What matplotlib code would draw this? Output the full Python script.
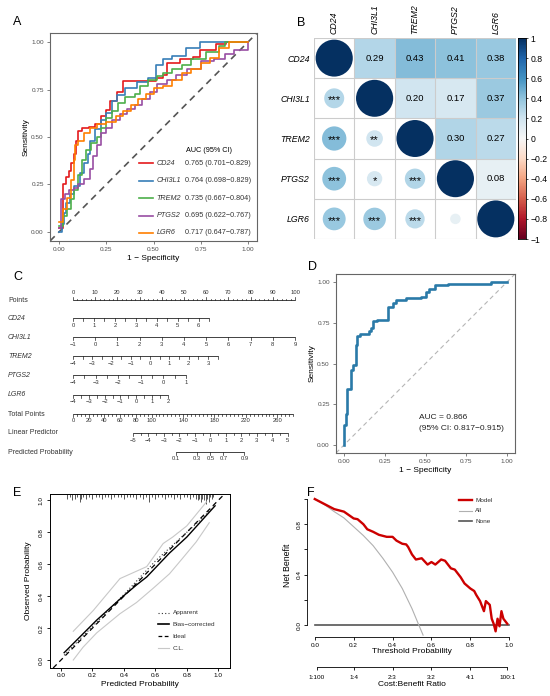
import numpy as np
import matplotlib
matplotlib.use('Agg')
import matplotlib.pyplot as plt
from matplotlib.patches import Rectangle, Circle

plt.rcParams['font.family'] = ['Liberation Sans', 'DejaVu Sans']

W, H = 550, 696

# ---------------- data ----------------
genes = ['CD24', 'CHI3L1', 'TREM2', 'PTGS2', 'LGR6']
gene_cols = ['#E41A1C', '#377EB8', '#4DAF4A', '#984EA3', '#FF7F00']
auc_text = ['0.765 (0.701\u22120.829)', '0.764 (0.698\u22120.829)', '0.735 (0.667\u22120.804)',
            '0.695 (0.622\u22120.767)', '0.717 (0.647\u22120.787)']

cd24_fpr = [0, 0.02, 0.035, 0.05, 0.063, 0.075, 0.088, 0.10, 0.12, 0.155, 0.19, 0.22, 0.245, 0.27,
            0.305, 0.34, 0.44, 0.515, 0.55, 0.57, 0.64, 0.71, 0.745, 0.83, 0.885, 1.0]
cd24_tpr = [0.02, 0.25, 0.29, 0.32, 0.36, 0.41, 0.48, 0.53, 0.55, 0.555, 0.57, 0.61, 0.645, 0.69,
            0.74, 0.795, 0.795, 0.81, 0.83, 0.89, 0.91, 0.925, 0.96, 0.99, 1.0, 1.0]
chi_fpr = [0, 0.015, 0.025, 0.035, 0.055, 0.075, 0.11, 0.13, 0.15, 0.165, 0.19, 0.22, 0.25, 0.28,
           0.305, 0.35, 0.41, 0.47, 0.515, 0.55, 0.6, 0.675, 0.745, 1.0]
chi_tpr = [0, 0.04, 0.10, 0.15, 0.20, 0.24, 0.31, 0.36, 0.41, 0.48, 0.54, 0.59, 0.625, 0.69,
           0.72, 0.76, 0.79, 0.81, 0.88, 0.91, 0.93, 0.97, 1.0, 1.0]
trem_fpr = [0, 0.02, 0.04, 0.06, 0.08, 0.10, 0.12, 0.14, 0.17, 0.20, 0.22, 0.25, 0.28, 0.31, 0.35,
            0.40, 0.43, 0.47, 0.52, 0.55, 0.60, 0.65, 0.70, 0.78, 0.85, 0.88, 1.0]
trem_tpr = [0.03, 0.08, 0.12, 0.17, 0.22, 0.30, 0.38, 0.43, 0.47, 0.50, 0.55, 0.60, 0.64, 0.68, 0.71,
            0.73, 0.77, 0.80, 0.82, 0.84, 0.86, 0.88, 0.91, 0.95, 0.98, 1.0, 1.0]
ptgs_fpr = [0, 0.01, 0.03, 0.05, 0.08, 0.10, 0.13, 0.16, 0.18, 0.20, 0.22, 0.25, 0.28, 0.32, 0.36,
            0.40, 0.44, 0.48, 0.52, 0.57, 0.62, 0.68, 0.75, 0.82, 0.88, 0.93, 1.0]
ptgs_tpr = [0.02, 0.17, 0.20, 0.22, 0.23, 0.25, 0.28, 0.33, 0.40, 0.46, 0.52, 0.55, 0.59, 0.62, 0.65,
            0.67, 0.70, 0.74, 0.78, 0.80, 0.83, 0.86, 0.90, 0.91, 0.94, 0.96, 1.0]
lgr_fpr = [0, 0.02, 0.04, 0.06, 0.075, 0.085, 0.10, 0.13, 0.16, 0.20, 0.25, 0.30, 0.34, 0.38, 0.42,
           0.46, 0.50, 0.55, 0.60, 0.65, 0.70, 0.75, 0.80, 0.85, 0.90, 1.0]
lgr_tpr = [0.05, 0.12, 0.18, 0.27, 0.38, 0.46, 0.48, 0.52, 0.55, 0.57, 0.58, 0.61, 0.64, 0.67, 0.70,
           0.73, 0.76, 0.77, 0.80, 0.84, 0.86, 0.89, 0.92, 0.97, 1.0, 1.0]
roc_fpr = [cd24_fpr, chi_fpr, trem_fpr, ptgs_fpr, lgr_fpr]
roc_tpr = [cd24_tpr, chi_tpr, trem_tpr, ptgs_tpr, lgr_tpr]

corr = [[1.00, 0.29, 0.43, 0.41, 0.38],
        [0.29, 1.00, 0.20, 0.17, 0.37],
        [0.43, 0.20, 1.00, 0.30, 0.27],
        [0.41, 0.17, 0.30, 1.00, 0.08],
        [0.38, 0.37, 0.27, 0.08, 1.00]]
sig = [['', '', '', '', ''],
       ['***', '', '', '', ''],
       ['***', '**', '', '', ''],
       ['***', '*', '***', '', ''],
       ['***', '***', '***', '', '']]

# nomogram scales: (min, max, tick step, points per unit)
cd24_scale = (0, 6.5, 0.5, 9.45)
chi_scale = (-1, 9, 1, 10.0)
trem_scale = (-4, 3.5, 0.5, 8.68)
ptgs_scale = (-4, 1, 0.5, 10.17)
lgr_scale = (-4, 2, 0.5, 7.125)
total_scale = (0, 280, 5, 0.354)
total_labels = [0, 20, 40, 60, 80, 100, 140, 180, 220, 260]
lp_scale = (-5, 5, 0.5, 6.975)
lp_offset = 27.0
prob_ticks = [0.1, 0.3, 0.5, 0.7, 0.9]

model_fpr = [0, 0, 0.01, 0.02, 0.043, 0.053, 0.07, 0.07, 0.08, 0.10, 0.15, 0.165, 0.18, 0.20, 0.27,
             0.30, 0.32, 0.38, 0.475, 0.50, 0.52, 0.56, 0.64, 0.90, 1.0]
model_tpr = [0, 0.12, 0.19, 0.345, 0.46, 0.49, 0.50, 0.615, 0.67, 0.68, 0.70, 0.72, 0.76, 0.77, 0.85,
             0.87, 0.89, 0.90, 0.91, 0.94, 0.96, 0.98, 0.99, 1.0, 1.0]

rug_x = [0.04, 0.06, 0.07, 0.09, 0.10, 0.12, 0.13, 0.14, 0.16, 0.18, 0.20, 0.22, 0.24, 0.26, 0.28,
         0.30, 0.32, 0.34, 0.36, 0.38, 0.40, 0.42, 0.44, 0.46, 0.48, 0.50, 0.52, 0.54, 0.56, 0.58,
         0.60, 0.62, 0.64, 0.66, 0.68, 0.70, 0.72, 0.74, 0.76, 0.78, 0.80, 0.82, 0.84, 0.86, 0.87,
         0.88, 0.89, 0.90, 0.91, 0.92, 0.93, 0.94, 0.95, 0.96, 0.97]
rug_h = [0.03, 0.02, 0.04, 0.03, 0.02, 0.05, 0.03, 0.02, 0.03, 0.02, 0.03, 0.02, 0.02, 0.03, 0.02,
         0.02, 0.03, 0.02, 0.02, 0.02, 0.03, 0.02, 0.02, 0.02, 0.03, 0.02, 0.03, 0.02, 0.05, 0.02,
         0.03, 0.02, 0.02, 0.03, 0.02, 0.02, 0.03, 0.02, 0.03, 0.02, 0.02, 0.03, 0.02, 0.03, 0.04,
         0.03, 0.05, 0.03, 0.04, 0.06, 0.03, 0.05, 0.02, 0.03, 0.02]
app_x = [0.02, 0.2, 0.4, 0.5, 0.6, 0.7, 0.8, 0.9, 0.97]
app_y = [0.03, 0.21, 0.41, 0.515, 0.62, 0.71, 0.80, 0.89, 0.96]
bias_x = [0.02, 0.227, 0.396, 0.48, 0.545, 0.69, 0.80, 0.98]
bias_y = [0.046, 0.25, 0.40, 0.47, 0.52, 0.67, 0.77, 0.966]
clup_x = [0.078, 0.205, 0.375, 0.545, 0.65, 0.71, 0.80, 0.925]
clup_y = [0.18, 0.31, 0.51, 0.585, 0.73, 0.77, 0.84, 0.99]
cllo_x = [0.078, 0.14, 0.227, 0.375, 0.48, 0.587, 0.69, 0.767, 0.86, 0.943]
cllo_y = [0.0, 0.08, 0.17, 0.29, 0.36, 0.45, 0.54, 0.63, 0.74, 0.86]

dca_thr = [0, 0.05, 0.10, 0.15, 0.20, 0.22, 0.25, 0.27, 0.30, 0.33, 0.37, 0.40, 0.42, 0.45, 0.47,
           0.48, 0.50, 0.52, 0.55, 0.58, 0.60, 0.62, 0.65, 0.67, 0.70, 0.72, 0.75, 0.77, 0.80,
           0.82, 0.83, 0.85, 0.87, 0.88, 0.90, 0.91, 0.92, 0.93, 0.94, 0.95, 0.96, 0.97, 0.98, 0.99]
dca_model = [1.0, 0.96, 0.92, 0.90, 0.846, 0.84, 0.80, 0.76, 0.74, 0.716, 0.70, 0.70, 0.67, 0.645, 0.64,
             0.62, 0.56, 0.52, 0.53, 0.48, 0.50, 0.48, 0.52, 0.51, 0.45, 0.44, 0.38, 0.33, 0.29,
             0.27, 0.24, 0.19, 0.11, 0.19, 0.16, 0.05, 0.01, -0.05, 0.05, -0.01, 0.11, 0.05, 0.03, 0.01]
all_thr = [0, 0.05, 0.10, 0.15, 0.20, 0.25, 0.30, 0.35, 0.40, 0.45, 0.50, 0.535, 0.557]
all_nb = [1.0, 0.955, 0.90, 0.85, 0.78, 0.71, 0.63, 0.53, 0.42, 0.29, 0.13, 0.0, -0.08]
cb_pos = [0.01, 0.2, 0.4, 0.6, 0.8, 0.99]
cb_labels = ['1:100', '1:4', '2:3', '3:2', '4:1', '100:1']


def box(l, t, r, b):
    return [l / W, 1 - b / H, (r - l) / W, (b - t) / H]


def fmt(v):
    return ('%g' % v).replace('-', '\u2212')


fig = plt.figure(figsize=(5.5, 6.96), dpi=100)
gray = '#4d4d4d'

for letter, x, y in [('A', 13, 22), ('B', 297, 23), ('C', 13, 277), ('D', 308, 267), ('E', 13, 493), ('F', 307, 493)]:
    fig.text(x / W, 1 - y / H, letter, fontsize=9, va='center', ha='left')


def gg_axes(ax):
    ax.set_xlim(-0.05, 1.05)
    ax.set_ylim(-0.05, 1.05)
    ticks = [0, 0.25, 0.5, 0.75, 1.0]
    ax.set_xticks(ticks)
    ax.set_yticks(ticks)
    ax.set_xticklabels(['0.00', '0.25', '0.50', '0.75', '1.00'])
    ax.set_yticklabels(['0.00', '0.25', '0.50', '0.75', '1.00'])
    ax.tick_params(length=2, width=0.5, color=gray, labelcolor=gray, labelsize=4.6, pad=2.5)
    for s in ax.spines.values():
        s.set_color('#666666')
        s.set_linewidth(0.8)


# ---------------- A ----------------
axA = fig.add_axes(box(50, 33, 257, 241))
gg_axes(axA)
axA.axline((0, 0), (1, 1), color='#555555', lw=1.2, ls=(0, (4, 3)))
for fpr, tpr, col in zip(roc_fpr, roc_tpr, gene_cols):
    axA.plot(fpr, tpr, color=col, lw=1.2, drawstyle='steps-post')
axA.set_xlabel('1 \u2212 Specificity', fontsize=6)
axA.set_ylabel('Sensitivity', fontsize=6)
axA.xaxis.set_label_coords(0.5, -0.065)
axA.yaxis.set_label_coords(-0.10, 0.5)
axA.text(0.675, 0.43, 'AUC (95% CI)', fontsize=5.2, va='center')
for k, (g, col, t) in enumerate(zip(genes, gene_cols, auc_text)):
    yy = 0.36 - 0.0918 * k
    axA.plot([0.425, 0.497], [yy, yy], color=col, lw=1.2)
    axA.text(0.517, yy, g, fontsize=5.2, style='italic', va='center', color='#333333')
    axA.text(0.667, yy, t, fontsize=5.2, va='center', color='#333333')

# ---------------- B ----------------
axB = fig.add_axes(box(314, 38, 516, 239))
axB.set_xlim(0, 5)
axB.set_ylim(5, 0)
cmap = plt.get_cmap('RdBu')
for i in range(5):
    for j in range(5):
        r = corr[i][j]
        c = cmap((r + 1) / 2)
        if j > i:
            axB.add_patch(Rectangle((j, i), 1, 1, facecolor=c, edgecolor='none'))
            axB.text(j + 0.5, i + 0.5, '%.2f' % r, ha='center', va='center', fontsize=6.8)
        else:
            axB.add_patch(Circle((j + 0.5, i + 0.5), 0.46 * np.sqrt(abs(r)), facecolor=c, edgecolor='none'))
            if sig[i][j]:
                axB.text(j + 0.5, i + 0.55, sig[i][j], ha='center', va='center', fontsize=8)
for k in range(6):
    axB.axhline(k, color='#cccccc', lw=0.8)
    axB.axvline(k, color='#cccccc', lw=0.8)
axB.set_aspect('auto')
axB.xaxis.tick_top()
axB.set_xticks(np.arange(5) + 0.5)
axB.set_xticklabels(genes, rotation=90, style='italic', fontsize=6.3, va='bottom', ha='center')
axB.set_yticks(np.arange(5) + 0.5)
axB.set_yticklabels(genes, style='italic', fontsize=6.3)
axB.tick_params(length=0, pad=3)
for s in axB.spines.values():
    s.set_visible(False)

axCb = fig.add_axes(box(518, 38, 526, 239))
grad = np.linspace(1, -1, 200).reshape(-1, 1)
axCb.imshow(grad, cmap='RdBu', vmin=-1, vmax=1, aspect='auto', extent=[0, 1, -1, 1])
axCb.set_xticks([])
axCb.yaxis.tick_right()
cb_ticks = [1, 0.8, 0.6, 0.4, 0.2, 0, -0.2, -0.4, -0.6, -0.8, -1]
axCb.set_yticks(cb_ticks)
axCb.set_yticklabels([fmt(v) for v in cb_ticks], fontsize=6.2)
axCb.tick_params(length=1.5, width=0.5, pad=2)
for s in axCb.spines.values():
    s.set_linewidth(0.6)

# ---------------- C (nomogram) ----------------
PXPT = 2.22
axC = fig.add_axes(box(0, 275, 300, 465))
axC.set_xlim(-73 / PXPT, (300 - 73) / PXPT)
axC.set_ylim(465, 275)
axC.axis('off')


def nomo_row(y, name, ticks, labels, to_pts, italic=False, up=False, minor=3.0, major=3.0):
    xs = [to_pts(t) for t in ticks]
    axC.plot([xs[0], xs[-1]], [y, y], color='#222222', lw=0.6, solid_capstyle='butt')
    d = -1 if up else 1
    for t, x in zip(ticks, xs):
        L = major if any(abs(t - l) < 1e-9 for l in labels) else minor
        axC.plot([x, x], [y, y + d * L], color='#222222', lw=0.5)
    for l in labels:
        axC.text(to_pts(l), y + d * (8.0 if up else 7.0), fmt(l), ha='center', va='center',
                 fontsize=4.2, color='#333333')
    axC.text((8 - 73) / PXPT, y, name, ha='left', va='center', fontsize=5,
             style='italic' if italic else 'normal', color='#333333')


def lin(scale, offset=0.0):
    vmin, vmax, step, ppu = scale
    return lambda v: offset + (v - vmin) * ppu


def scale_ticks(scale):
    vmin, vmax, step, ppu = scale
    return list(np.arange(vmin, vmax + 1e-9, step))


nomo_row(300, 'Points', list(range(0, 101, 2)), list(range(0, 101, 10)), lambda v: v,
         up=True, minor=1.5, major=3.3)
var_scales = [cd24_scale, chi_scale, trem_scale, ptgs_scale, lgr_scale]
var_y = [318, 337, 356, 375, 394.5]
for g, sc, yy in zip(genes, var_scales, var_y):
    labs = list(range(int(sc[0]), int(np.floor(sc[1])) + 1))
    nomo_row(yy, g, scale_ticks(sc), labs, lin(sc), italic=True)
nomo_row(414, 'Total Points', scale_ticks(total_scale), total_labels, lin(total_scale),
         minor=2.0, major=3.0)
nomo_row(433, 'Linear Predictor', scale_ticks(lp_scale), list(range(-5, 6)), lin(lp_scale, lp_offset),
         minor=2.0, major=3.0)
lp_fn = lin(lp_scale, lp_offset)
nomo_row(452, 'Predicted Probability', prob_ticks, prob_ticks,
         lambda p: lp_fn(np.log(p / (1 - p))))

# ---------------- D ----------------
axD = fig.add_axes(box(336, 274, 515, 453))
gg_axes(axD)
axD.axline((0, 0), (1, 1), color='#b5b5b5', lw=0.8, ls=(0, (4, 3)))
axD.plot(model_fpr, model_tpr, color='#2a7aa8', lw=1.9, drawstyle='steps-post')
axD.text(0.46, 0.167, 'AUC = 0.866', fontsize=6, va='center', color='#222222')
axD.text(0.46, 0.098, '(95% CI: 0.817\u22120.915)', fontsize=6, va='center', color='#222222')
axD.set_xlabel('1 \u2212 Specificity', fontsize=6)
axD.set_ylabel('Sensitivity', fontsize=6)
axD.xaxis.set_label_coords(0.5, -0.08)
axD.yaxis.set_label_coords(-0.115, 0.5)


def r_axes(ax):
    ax.tick_params(length=2.5, width=0.6, labelsize=4.6, direction='out')
    for lab in ax.get_yticklabels():
        lab.set_rotation(90)
        lab.set_va('center')
        lab.set_ha('center')


# ---------------- E ----------------
axE = fig.add_axes(box(50, 494, 230, 668))
axE.set_xlim(-0.07, 1.075)
axE.set_ylim(-0.05, 1.04)
axE.vlines(rug_x, [1.04 - h for h in rug_h], 1.04, color='#555555', lw=0.7)
axE.axline((0, 0), (1, 1), color='k', lw=0.9, ls=(0, (4, 3)))
axE.plot(app_x, app_y, color='#333333', lw=0.8, ls=(0, (1, 2)))
axE.plot(bias_x, bias_y, color='k', lw=1.0)
axE.plot(clup_x, clup_y, color='#c8c8c8', lw=0.8)
axE.plot(cllo_x, cllo_y, color='#c8c8c8', lw=0.8)
et = [0, 0.2, 0.4, 0.6, 0.8, 1.0]
axE.set_xticks(et)
axE.set_yticks(et)
axE.set_xticklabels([('%.1f' % v) for v in et])
axE.set_yticklabels([('%.1f' % v) for v in et])
r_axes(axE)
axE.tick_params(axis='y', pad=4)
axE.tick_params(axis='x', pad=1)
for s in axE.spines.values():
    s.set_linewidth(0.7)
axE.set_xlabel('Predicted Probability', fontsize=6)
axE.set_ylabel('Observed Probability', fontsize=6)
axE.xaxis.set_label_coords(0.5, -0.075)
axE.yaxis.set_label_coords(-0.10, 0.5)
leg_e = [('Apparent', dict(color='#333333', lw=0.8, ls=(0, (1, 2)))),
         ('Bias\u2212corrected', dict(color='k', lw=1.2)),
         ('Ideal', dict(color='k', lw=0.9, ls=(0, (3, 2)))),
         ('C.L.', dict(color='#c8c8c8', lw=0.8))]
for k, (lab, st) in enumerate(leg_e):
    yy = 0.297 - 0.074 * k
    axE.plot([0.62, 0.69], [yy, yy], **st)
    axE.text(0.71, yy, lab, fontsize=4.6, va='center', color='#333333')

# ---------------- F ----------------
axF = fig.add_axes(box(307, 494, 517, 637))
axF.set_xlim(-0.04, 1.04)
axF.set_ylim(-0.095, 1.04)
axF.plot([0, 1], [0, 0], color='#555555', lw=1.2)
axF.plot(all_thr, all_nb, color='#b0b0b0', lw=0.8)
axF.plot(dca_thr, dca_model, color='#cc0000', lw=1.7)
for s in ['top', 'right']:
    axF.spines[s].set_visible(False)
axF.spines['left'].set_bounds(0, 1)
axF.spines['bottom'].set_bounds(0, 1)
for s in ['left', 'bottom']:
    axF.spines[s].set_linewidth(0.6)
axF.set_xticks(et)
axF.set_xticklabels([('%.1f' % v) for v in et])
axF.set_yticks(et)
axF.set_yticklabels(['0.0', '', '0.4', '', '0.8', ''])
r_axes(axF)
axF.tick_params(axis='y', pad=3)
axF.tick_params(axis='x', pad=2)
axF.set_xlabel('Threshold Probability', fontsize=6)
axF.set_ylabel('Net Benefit', fontsize=6.3)
axF.xaxis.set_label_coords(0.5, -0.08)
axF.yaxis.set_label_coords(-0.07, 0.5)
leg_f = [('Model', dict(color='#cc0000', lw=1.7)),
         ('All', dict(color='#b0b0b0', lw=0.8)),
         ('None', dict(color='#555555', lw=1.2))]
for k, (lab, st) in enumerate(leg_f):
    yy = 0.99 - 0.084 * k
    axF.plot([0.74, 0.81], [yy, yy], **st)
    axF.text(0.825, yy, lab, fontsize=4.6, va='center', color='#333333')

axF2 = fig.add_axes(box(307, 666, 517, 667))
axF2.set_xlim(-0.04, 1.04)
axF2.set_yticks([])
for s in ['top', 'right', 'left']:
    axF2.spines[s].set_visible(False)
axF2.spines['bottom'].set_bounds(cb_pos[0], cb_pos[-1])
axF2.spines['bottom'].set_linewidth(0.6)
axF2.patch.set_alpha(0)
axF2.set_xticks(cb_pos)
axF2.set_xticklabels(cb_labels)
axF2.tick_params(length=2.5, width=0.6, labelsize=4.6, pad=3.5)
axF2.set_xlabel('Cost:Benefit Ratio', fontsize=6, labelpad=0.5)

fig.savefig('out.png', dpi=100, facecolor='white')
